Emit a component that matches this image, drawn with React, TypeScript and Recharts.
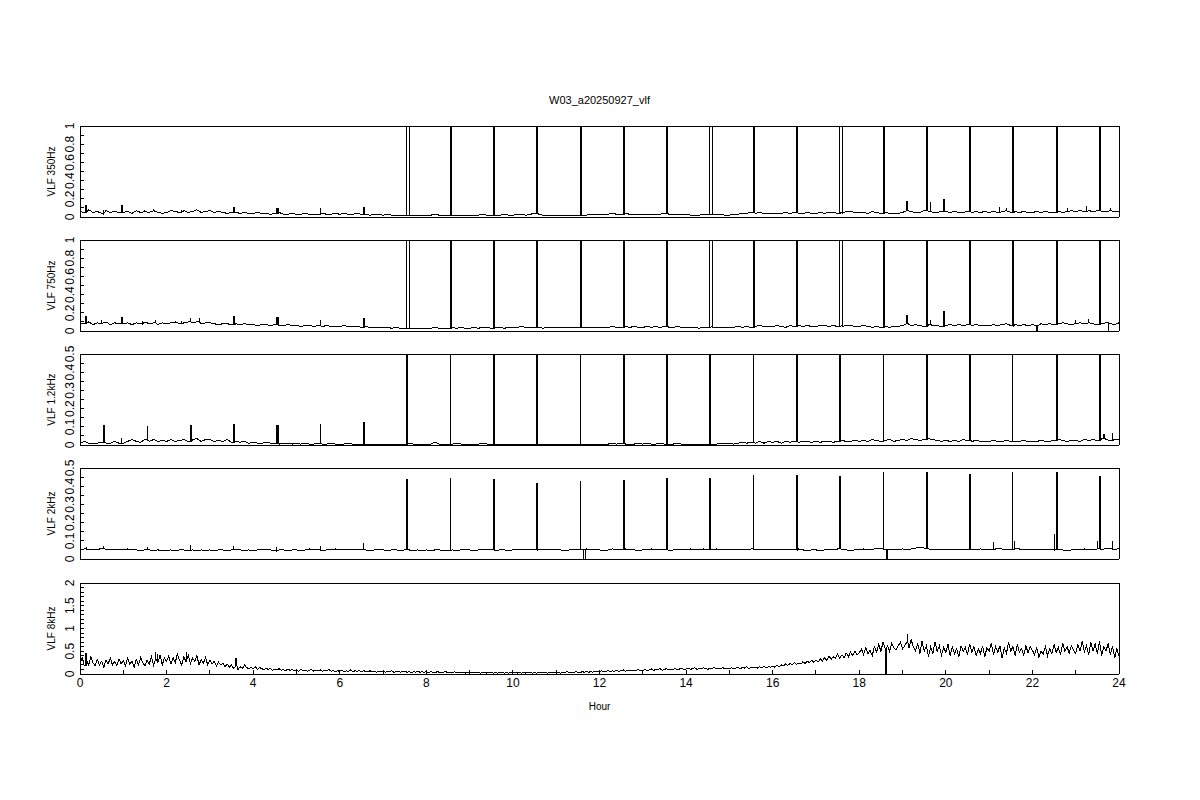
import React from 'react'
import { LineChart, Line, XAxis, YAxis } from 'recharts'

const TITLE = 'W03_a20250927_vlf'
const HOUR_TICKS = [0, 1, 2, 3, 4, 5, 6, 7, 8, 9, 10, 11, 12, 13, 14, 15, 16, 17, 18, 19, 20, 21, 22, 23, 24]

// baseline samples every 0.1 h (0.0 .. 24.0), one hour per row
const vlf350 = [
  0.06, 0.05, 0.08, 0.05, 0.06, 0.04, 0.07, 0.05, 0.06, 0.05,
  0.05, 0.06, 0.04, 0.07, 0.05, 0.06, 0.05, 0.07, 0.05, 0.04,
  0.05, 0.07, 0.06, 0.05, 0.07, 0.05, 0.06, 0.08, 0.05, 0.06,
  0.07, 0.05, 0.06, 0.05, 0.04, 0.05, 0.05, 0.04, 0.05, 0.04,
  0.04, 0.05, 0.04, 0.04, 0.03, 0.04, 0.05, 0.03, 0.03, 0.04,
  0.03, 0.03, 0.04, 0.03, 0.03, 0.03, 0.04, 0.03, 0.03, 0.04,
  0.03, 0.04, 0.03, 0.03, 0.04, 0.03, 0.03, 0.02, 0.03, 0.03,
  0.02, 0.03, 0.02, 0.02, 0.02, 0.02, 0.02, 0.02, 0.02, 0.02,
  0.02, 0.02, 0.03, 0.02, 0.02, 0.02, 0.02, 0.02, 0.02, 0.02,
  0.02, 0.02, 0.02, 0.03, 0.02, 0.02, 0.02, 0.02, 0.03, 0.02,
  0.02, 0.03, 0.03, 0.02, 0.03, 0.04, 0.03, 0.02, 0.02, 0.02,
  0.02, 0.02, 0.02, 0.02, 0.02, 0.02, 0.02, 0.02, 0.03, 0.03,
  0.03, 0.03, 0.03, 0.04, 0.03, 0.03, 0.04, 0.03, 0.03, 0.03,
  0.03, 0.03, 0.03, 0.03, 0.03, 0.04, 0.03, 0.03, 0.03, 0.03,
  0.03, 0.02, 0.02, 0.02, 0.03, 0.03, 0.02, 0.03, 0.03, 0.02,
  0.02, 0.03, 0.03, 0.04, 0.04, 0.05, 0.04, 0.05, 0.04, 0.04,
  0.04, 0.04, 0.04, 0.05, 0.04, 0.05, 0.04, 0.04, 0.05, 0.04,
  0.04, 0.05, 0.04, 0.05, 0.05, 0.04, 0.05, 0.06, 0.06, 0.05,
  0.05, 0.05, 0.04, 0.06, 0.05, 0.04, 0.05, 0.04, 0.04, 0.04,
  0.05, 0.07, 0.06, 0.05, 0.05, 0.07, 0.06, 0.05, 0.05, 0.06,
  0.06, 0.05, 0.06, 0.05, 0.05, 0.06, 0.05, 0.06, 0.05, 0.06,
  0.05, 0.06, 0.05, 0.06, 0.07, 0.05, 0.06, 0.05, 0.06, 0.05,
  0.05, 0.06, 0.05, 0.06, 0.05, 0.05, 0.06, 0.05, 0.06, 0.07,
  0.06, 0.07, 0.06, 0.07, 0.06, 0.07, 0.06, 0.06, 0.07, 0.06,
  0.06,
]

const vlf750 = [
  0.09, 0.08, 0.10, 0.07, 0.09, 0.08, 0.10, 0.07, 0.09, 0.08,
  0.08, 0.09, 0.07, 0.09, 0.08, 0.10, 0.08, 0.09, 0.07, 0.09,
  0.08, 0.09, 0.10, 0.08, 0.09, 0.10, 0.09, 0.10, 0.08, 0.09,
  0.09, 0.08, 0.07, 0.08, 0.08, 0.07, 0.08, 0.07, 0.08, 0.07,
  0.07, 0.06, 0.07, 0.07, 0.06, 0.07, 0.06, 0.06, 0.07, 0.06,
  0.06, 0.05, 0.06, 0.06, 0.05, 0.06, 0.05, 0.06, 0.05, 0.05,
  0.05, 0.06, 0.05, 0.05, 0.05, 0.04, 0.05, 0.04, 0.04, 0.04,
  0.04, 0.04, 0.03, 0.04, 0.03, 0.03, 0.02, 0.03, 0.03, 0.03,
  0.03, 0.03, 0.04, 0.03, 0.03, 0.03, 0.04, 0.03, 0.04, 0.03,
  0.03, 0.04, 0.03, 0.04, 0.04, 0.03, 0.04, 0.04, 0.03, 0.04,
  0.04, 0.04, 0.05, 0.04, 0.04, 0.04, 0.04, 0.03, 0.04, 0.04,
  0.04, 0.04, 0.04, 0.04, 0.04, 0.04, 0.04, 0.04, 0.04, 0.04,
  0.04, 0.04, 0.04, 0.05, 0.04, 0.04, 0.05, 0.04, 0.05, 0.04,
  0.04, 0.05, 0.04, 0.05, 0.04, 0.05, 0.04, 0.04, 0.05, 0.04,
  0.04, 0.04, 0.04, 0.03, 0.04, 0.04, 0.05, 0.04, 0.04, 0.04,
  0.04, 0.04, 0.05, 0.04, 0.05, 0.04, 0.05, 0.06, 0.05, 0.05,
  0.05, 0.06, 0.05, 0.04, 0.06, 0.05, 0.06, 0.05, 0.06, 0.05,
  0.05, 0.06, 0.06, 0.05, 0.06, 0.05, 0.06, 0.06, 0.06, 0.05,
  0.05, 0.06, 0.05, 0.04, 0.05, 0.04, 0.05, 0.04, 0.05, 0.05,
  0.06, 0.08, 0.06, 0.07, 0.06, 0.05, 0.07, 0.06, 0.06, 0.05,
  0.06, 0.07, 0.06, 0.07, 0.06, 0.07, 0.06, 0.07, 0.06, 0.06,
  0.06, 0.07, 0.06, 0.07, 0.08, 0.06, 0.07, 0.06, 0.07, 0.06,
  0.07, 0.06, 0.08, 0.07, 0.08, 0.07, 0.08, 0.09, 0.08, 0.07,
  0.08, 0.09, 0.08, 0.09, 0.08, 0.07, 0.08, 0.09, 0.08, 0.07,
  0.09,
]

const vlf1200 = [
  0.01, 0.02, 0.01, 0.005, 0.01, 0.015, 0.01, 0.01, 0.02, 0.01,
  0.01, 0.02, 0.03, 0.02, 0.015, 0.03, 0.02, 0.03, 0.02, 0.025,
  0.02, 0.03, 0.02, 0.025, 0.03, 0.02, 0.03, 0.035, 0.02, 0.03,
  0.03, 0.02, 0.025, 0.02, 0.03, 0.015, 0.02, 0.015, 0.02, 0.01,
  0.015, 0.01, 0.01, 0.015, 0.01, 0.01, 0.005, 0.01, 0.01, 0.005,
  0.01, 0.005, 0.01, 0.005, 0.005, 0.01, 0.005, 0.005, 0.01, 0.005,
  0.005, 0.005, 0.01, 0.005, 0.005, 0.005, 0.005, 0.005, 0.005, 0.005,
  0.005, 0.005, 0.005, 0.005, 0.005, 0.005, 0.01, 0.005, 0.005, 0.005,
  0.005, 0.005, 0.015, 0.005, 0.005, 0.005, 0.005, 0.01, 0.005, 0.005,
  0.005, 0.005, 0.005, 0.01, 0.005, 0.005, 0.005, 0.005, 0.005, 0.005,
  0.005, 0.005, 0.005, 0.005, 0.005, 0.005, 0.005, 0.005, 0.005, 0.005,
  0.005, 0.005, 0.005, 0.005, 0.005, 0.005, 0.005, 0.005, 0.005, 0.005,
  0.005, 0.005, 0.005, 0.01, 0.005, 0.01, 0.005, 0.005, 0.005, 0.01,
  0.005, 0.01, 0.005, 0.005, 0.01, 0.005, 0.005, 0.005, 0.01, 0.005,
  0.005, 0.005, 0.005, 0.005, 0.005, 0.005, 0.005, 0.005, 0.01, 0.005,
  0.01, 0.005, 0.01, 0.015, 0.01, 0.015, 0.01, 0.02, 0.01, 0.02,
  0.015, 0.02, 0.01, 0.02, 0.015, 0.02, 0.015, 0.02, 0.02, 0.015,
  0.02, 0.015, 0.02, 0.02, 0.015, 0.02, 0.025, 0.02, 0.02, 0.025,
  0.02, 0.025, 0.02, 0.03, 0.025, 0.02, 0.025, 0.03, 0.02, 0.025,
  0.03, 0.025, 0.035, 0.03, 0.025, 0.03, 0.035, 0.03, 0.025, 0.02,
  0.025, 0.02, 0.025, 0.02, 0.03, 0.025, 0.02, 0.025, 0.02, 0.02,
  0.02, 0.025, 0.02, 0.02, 0.025, 0.02, 0.02, 0.02, 0.025, 0.02,
  0.02, 0.02, 0.025, 0.02, 0.02, 0.025, 0.03, 0.025, 0.02, 0.025,
  0.025, 0.02, 0.03, 0.025, 0.03, 0.025, 0.035, 0.03, 0.025, 0.03,
  0.03,
]

const vlf2k = [
  0.05, 0.055, 0.05, 0.055, 0.05, 0.06, 0.05, 0.055, 0.05, 0.05,
  0.05, 0.055, 0.05, 0.05, 0.045, 0.05, 0.05, 0.045, 0.05, 0.045,
  0.045, 0.05, 0.045, 0.05, 0.05, 0.045, 0.05, 0.045, 0.05, 0.045,
  0.05, 0.045, 0.05, 0.05, 0.045, 0.05, 0.055, 0.05, 0.045, 0.05,
  0.045, 0.05, 0.05, 0.055, 0.05, 0.045, 0.05, 0.05, 0.045, 0.05,
  0.05, 0.045, 0.05, 0.055, 0.05, 0.05, 0.045, 0.05, 0.05, 0.055,
  0.05, 0.055, 0.05, 0.05, 0.055, 0.05, 0.05, 0.045, 0.05, 0.05,
  0.05, 0.045, 0.05, 0.05, 0.045, 0.05, 0.05, 0.045, 0.05, 0.045,
  0.05, 0.045, 0.05, 0.05, 0.045, 0.045, 0.05, 0.045, 0.05, 0.05,
  0.05, 0.045, 0.05, 0.05, 0.055, 0.05, 0.045, 0.05, 0.05, 0.045,
  0.05, 0.055, 0.05, 0.055, 0.05, 0.05, 0.055, 0.05, 0.05, 0.05,
  0.05, 0.05, 0.045, 0.05, 0.05, 0.05, 0.05, 0.055, 0.05, 0.05,
  0.05, 0.045, 0.05, 0.055, 0.05, 0.05, 0.055, 0.05, 0.05, 0.045,
  0.05, 0.05, 0.055, 0.05, 0.05, 0.05, 0.045, 0.05, 0.05, 0.05,
  0.05, 0.055, 0.05, 0.05, 0.055, 0.05, 0.05, 0.055, 0.05, 0.05,
  0.05, 0.05, 0.055, 0.05, 0.05, 0.055, 0.05, 0.05, 0.05, 0.055,
  0.05, 0.05, 0.055, 0.05, 0.05, 0.05, 0.055, 0.05, 0.045, 0.05,
  0.05, 0.045, 0.05, 0.05, 0.05, 0.055, 0.05, 0.05, 0.045, 0.05,
  0.05, 0.055, 0.05, 0.05, 0.06, 0.055, 0.05, 0.05, 0.055, 0.05,
  0.055, 0.05, 0.055, 0.06, 0.065, 0.06, 0.055, 0.05, 0.055, 0.05,
  0.05, 0.055, 0.05, 0.05, 0.055, 0.05, 0.05, 0.05, 0.055, 0.05,
  0.055, 0.05, 0.06, 0.055, 0.05, 0.05, 0.06, 0.055, 0.05, 0.05,
  0.05, 0.055, 0.05, 0.05, 0.055, 0.05, 0.05, 0.05, 0.045, 0.05,
  0.05, 0.05, 0.055, 0.05, 0.05, 0.055, 0.05, 0.06, 0.055, 0.05,
  0.06,
]

// 8 kHz is noisier: samples every 0.05 h (0.00 .. 24.00), one hour per row
const vlf8k = [
  0.22, 0.35, 0.18, 0.3, 0.2, 0.38, 0.25, 0.18, 0.32, 0.2, 0.28, 0.15, 0.3, 0.22, 0.35, 0.2, 0.27, 0.18, 0.33, 0.22,
  0.3, 0.18, 0.35, 0.22, 0.28, 0.15, 0.32, 0.2, 0.36, 0.25, 0.18, 0.3, 0.22, 0.38, 0.2, 0.33, 0.25, 0.42, 0.2, 0.35,
  0.28, 0.4, 0.22, 0.36, 0.25, 0.44, 0.3, 0.2, 0.38, 0.26, 0.42, 0.22, 0.35, 0.28, 0.4, 0.2, 0.32, 0.24, 0.36, 0.2,
  0.3, 0.22, 0.28, 0.18, 0.26, 0.2, 0.24, 0.16, 0.22, 0.15, 0.2, 0.12, 0.18, 0.1, 0.16, 0.12, 0.2, 0.14, 0.12, 0.15,
  0.12, 0.16, 0.1, 0.14, 0.12, 0.09, 0.13, 0.1, 0.12, 0.08, 0.11, 0.09, 0.12, 0.08, 0.1, 0.07, 0.11, 0.08, 0.1, 0.07,
  0.09, 0.06, 0.1, 0.07, 0.09, 0.06, 0.08, 0.1, 0.06, 0.08, 0.07, 0.09, 0.06, 0.08, 0.07, 0.1, 0.06, 0.08, 0.05, 0.07,
  0.06, 0.08, 0.05, 0.07, 0.06, 0.09, 0.05, 0.07, 0.06, 0.08, 0.05, 0.07, 0.06, 0.05, 0.07, 0.05, 0.06, 0.04, 0.06, 0.05,
  0.06, 0.04, 0.06, 0.05, 0.07, 0.04, 0.05, 0.06, 0.04, 0.05, 0.06, 0.04, 0.05, 0.03, 0.05, 0.04, 0.06, 0.04, 0.05, 0.04,
  0.05, 0.03, 0.05, 0.04, 0.03, 0.05, 0.04, 0.03, 0.04, 0.05, 0.03, 0.04, 0.03, 0.05, 0.03, 0.04, 0.03, 0.04, 0.02, 0.04,
  0.03, 0.04, 0.02, 0.04, 0.03, 0.02, 0.04, 0.03, 0.02, 0.03, 0.04, 0.02, 0.03, 0.02, 0.04, 0.03, 0.02, 0.03, 0.02, 0.03,
  0.02, 0.03, 0.02, 0.04, 0.02, 0.03, 0.02, 0.03, 0.04, 0.02, 0.03, 0.02, 0.03, 0.02, 0.04, 0.03, 0.02, 0.03, 0.04, 0.03,
  0.03, 0.04, 0.02, 0.04, 0.03, 0.05, 0.03, 0.04, 0.03, 0.05, 0.04, 0.03, 0.05, 0.04, 0.06, 0.04, 0.05, 0.04, 0.06, 0.05,
  0.05, 0.07, 0.05, 0.06, 0.08, 0.05, 0.07, 0.06, 0.08, 0.06, 0.07, 0.09, 0.06, 0.08, 0.07, 0.09, 0.07, 0.08, 0.1, 0.07,
  0.08, 0.1, 0.07, 0.09, 0.11, 0.08, 0.1, 0.09, 0.12, 0.08, 0.1, 0.12, 0.09, 0.11, 0.1, 0.12, 0.09, 0.11, 0.13, 0.1,
  0.11, 0.13, 0.1, 0.12, 0.14, 0.1, 0.12, 0.11, 0.14, 0.12, 0.1, 0.13, 0.12, 0.15, 0.11, 0.13, 0.12, 0.14, 0.11, 0.13,
  0.12, 0.14, 0.11, 0.13, 0.15, 0.12, 0.14, 0.13, 0.16, 0.12, 0.14, 0.13, 0.15, 0.13, 0.16, 0.14, 0.17, 0.14, 0.16, 0.15,
  0.17, 0.15, 0.19, 0.16, 0.2, 0.18, 0.22, 0.19, 0.23, 0.2, 0.25, 0.21, 0.24, 0.22, 0.27, 0.23, 0.28, 0.25, 0.3, 0.26,
  0.3, 0.26, 0.34, 0.28, 0.36, 0.3, 0.4, 0.32, 0.38, 0.34, 0.44, 0.35, 0.42, 0.36, 0.46, 0.38, 0.48, 0.4, 0.5, 0.42,
  0.46, 0.55, 0.42, 0.58, 0.45, 0.52, 0.4, 0.6, 0.48, 0.65, 0.5, 0.7, 0.55, 0.62, 0.5, 0.68, 0.58, 0.52, 0.62, 0.7,
  0.55, 0.62, 0.7, 0.58, 0.75, 0.6, 0.5, 0.68, 0.45, 0.72, 0.5, 0.62, 0.38, 0.6, 0.45, 0.7, 0.5, 0.62, 0.42, 0.58,
  0.48, 0.65, 0.4, 0.6, 0.45, 0.55, 0.38, 0.62, 0.5, 0.58, 0.42, 0.66, 0.48, 0.6, 0.4, 0.55, 0.45, 0.62, 0.38, 0.58,
  0.5, 0.68, 0.42, 0.6, 0.48, 0.62, 0.35, 0.58, 0.45, 0.7, 0.5, 0.6, 0.4, 0.65, 0.48, 0.56, 0.42, 0.62, 0.46, 0.6,
  0.52, 0.42, 0.58, 0.36, 0.5, 0.44, 0.6, 0.4, 0.55, 0.45, 0.65, 0.48, 0.58, 0.42, 0.68, 0.5, 0.6, 0.46, 0.62, 0.52,
  0.45, 0.65, 0.5, 0.72, 0.48, 0.62, 0.42, 0.7, 0.5, 0.66, 0.45, 0.72, 0.4, 0.6, 0.5, 0.68, 0.42, 0.62, 0.35, 0.55,
  0.4,
]

// spikes: [hour, peak value, trace width]
type Spike = [number, number, 'thin' | 'thick' | 'wide']

const spikes350: Spike[] = [
  [0.12, 0.13, 'thick'], [0.55, 0.08, 'thin'], [0.95, 0.13, 'thick'], [1.5, 0.08, 'thin'],
  [1.7, 0.09, 'thin'], [2.35, 0.08, 'thin'], [2.7, 0.09, 'thin'], [3.55, 0.11, 'thick'],
  [4.55, 0.1, 'thick'], [5.55, 0.1, 'thin'], [6.55, 0.11, 'thick'],
  [7.55, 2, 'wide'], [8.55, 2, 'thick'], [9.55, 2, 'thick'], [10.55, 2, 'thick'],
  [11.55, 2, 'thick'], [12.55, 2, 'thick'], [13.55, 2, 'thick'], [14.55, 2, 'wide'],
  [15.55, 2, 'thick'], [16.55, 2, 'thick'], [17.55, 2, 'wide'], [18.55, 2, 'thick'],
  [19.1, 0.18, 'thick'], [19.55, 2, 'thick'], [19.65, 0.17, 'thin'], [19.95, 0.2, 'thick'],
  [20.55, 2, 'thick'], [21.25, 0.11, 'thin'], [21.4, 0.1, 'thin'], [21.55, 2, 'thick'],
  [22.55, 2, 'thick'], [22.8, 0.1, 'thin'], [23.25, 0.12, 'thin'], [23.55, 2, 'thick'],
  [23.8, 0.1, 'thin'],
]

const spikes750: Spike[] = [
  [0.12, 0.17, 'thick'], [0.5, 0.12, 'thin'], [0.95, 0.15, 'thick'], [1.45, 0.11, 'thin'],
  [1.75, 0.12, 'thin'], [2.35, 0.11, 'thin'], [2.55, 0.14, 'thin'], [2.75, 0.14, 'thin'],
  [3.55, 0.165, 'thick'], [4.55, 0.155, 'thick'], [5.55, 0.12, 'thin'], [6.55, 0.14, 'thick'],
  [7.55, 2, 'wide'], [8.55, 2, 'thick'], [9.55, 2, 'thick'], [10.55, 2, 'thick'],
  [11.55, 2, 'thick'], [12.55, 2, 'thick'], [13.55, 2, 'thick'], [14.55, 2, 'wide'],
  [15.55, 2, 'thick'], [16.55, 2, 'thick'], [17.55, 2, 'wide'], [18.55, 2, 'thick'],
  [19.1, 0.18, 'thick'], [19.55, 2, 'thick'], [19.65, 0.12, 'thin'], [19.95, 0.22, 'thick'],
  [20.55, 2, 'thick'], [21.55, 2, 'thick'], [22.1, 0, 'thick'], [22.55, 2, 'thick'],
  [23.0, 0.12, 'thin'], [23.3, 0.13, 'thin'], [23.55, 2, 'thick'], [23.75, 0, 'thin'],
]

const spikes1200: Spike[] = [
  [0.55, 0.11, 'thick'], [0.95, 0.04, 'thin'], [1.55, 0.104, 'thin'], [2.55, 0.11, 'thick'],
  [3.55, 0.117, 'thick'], [4.55, 0.11, 'thick'], [5.55, 0.117, 'thin'], [6.55, 0.126, 'thick'],
  [7.55, 1, 'thick'], [8.55, 1, 'thin'], [9.55, 1, 'thick'], [10.55, 1, 'thick'],
  [11.55, 1, 'thin'], [12.55, 1, 'thick'], [13.55, 1, 'thick'], [14.55, 1, 'thick'],
  [15.55, 1, 'thin'], [16.55, 1, 'thick'], [17.55, 1, 'thick'], [18.55, 1, 'thin'],
  [19.55, 1, 'thick'], [20.55, 1, 'thick'], [21.55, 1, 'thin'], [22.55, 1, 'thick'],
  [23.55, 1, 'thick'], [23.65, 0.06, 'thick'], [23.85, 0.065, 'thin'],
]

const spikes2k: Spike[] = [
  [0.15, 0.065, 'thin'], [0.55, 0.07, 'thin'], [1.55, 0.065, 'thin'], [2.55, 0.075, 'thin'],
  [3.55, 0.07, 'thin'], [4.55, 0.065, 'thin'], [5.55, 0.07, 'thin'], [6.55, 0.09, 'thin'],
  [7.55, 0.44, 'thick'], [8.55, 0.445, 'thin'], [9.55, 0.438, 'thick'], [10.55, 0.418, 'thick'],
  [11.55, 0.43, 'thin'], [11.62, 0, 'thin'], [11.67, 0, 'thin'], [12.55, 0.434, 'thick'],
  [13.55, 0.445, 'thick'], [14.55, 0.445, 'thick'], [15.55, 0.46, 'thin'], [16.55, 0.462, 'thick'],
  [17.55, 0.458, 'thick'], [18.55, 0.476, 'thin'], [18.62, 0, 'thick'], [19.55, 0.476, 'thick'],
  [20.55, 0.467, 'thick'], [21.1, 0.095, 'thin'], [21.55, 0.476, 'thin'], [21.58, 0.1, 'thin'],
  [22.5, 0.14, 'thin'], [22.55, 0.476, 'thick'], [23.5, 0.1, 'thin'], [23.55, 0.458, 'thick'],
  [23.85, 0.1, 'thin'],
]

const spikes8k: Spike[] = [
  [0.12, 0.46, 'thick'], [1.75, 0.49, 'thin'], [1.8, 0.45, 'thin'], [2.45, 0.48, 'thin'],
  [3.6, 0.36, 'thick'], [18.6, 0, 'thick'], [19.12, 0.88, 'thin'],
]

// vertical strokes (hour offsets) that make up each kind of spike
const SPIKE_STROKES = { thin: [0], thick: [0, 0.012, 0.024], wide: [0, 0.06] }

function buildRows(base: number[], perHour: number, spikes: Spike[]) {
  const rows = base.map((v, i) => ({ h: i / perHour, v }))
  for (const [t, peak, kind] of spikes) {
    const foot = base[Math.floor(t * perHour + 1e-9)]
    for (const o of SPIKE_STROKES[kind]) {
      rows.push({ h: t + o, v: foot }, { h: t + o, v: peak }, { h: t + o, v: foot })
    }
  }
  return rows.sort((a, b) => a.h - b.h)
}

const FONT = '"Liberation Sans", Arial, sans-serif'
const PLOT_H = 91

const panels = [
  {
    name: 'VLF 350Hz', top: 126, rows: buildRows(vlf350, 10, spikes350), domain: [0, 1],
    major: [0, 0.2, 0.4, 0.6, 0.8, 1],
    minor: [0, 0.1, 0.2, 0.3, 0.4, 0.5, 0.6, 0.7, 0.8, 0.9, 1],
  },
  {
    name: 'VLF 750Hz', top: 240, rows: buildRows(vlf750, 10, spikes750), domain: [0, 1],
    major: [0, 0.2, 0.4, 0.6, 0.8, 1],
    minor: [0, 0.1, 0.2, 0.3, 0.4, 0.5, 0.6, 0.7, 0.8, 0.9, 1],
  },
  {
    name: 'VLF 1.2kHz', top: 354, rows: buildRows(vlf1200, 10, spikes1200), domain: [0, 0.5],
    major: [0, 0.1, 0.2, 0.3, 0.4, 0.5],
    minor: [0, 0.05, 0.1, 0.15, 0.2, 0.25, 0.3, 0.35, 0.4, 0.45, 0.5],
  },
  {
    name: 'VLF 2kHz', top: 468, rows: buildRows(vlf2k, 10, spikes2k), domain: [0, 0.5],
    major: [0, 0.1, 0.2, 0.3, 0.4, 0.5],
    minor: [0, 0.05, 0.1, 0.15, 0.2, 0.25, 0.3, 0.35, 0.4, 0.45, 0.5],
  },
  {
    name: 'VLF 8kHz', top: 583, rows: buildRows(vlf8k, 20, spikes8k), domain: [0, 2],
    major: [0, 0.5, 1, 1.5, 2],
    minor: [0, 0.1, 0.2, 0.3, 0.4, 0.5, 0.6, 0.7, 0.8, 0.9, 1, 1.1, 1.2, 1.3, 1.4, 1.5, 1.6, 1.7, 1.8, 1.9, 2],
  },
]

function makeYTick(major: number[]) {
  return function YTick(props: any) {
    const { x, y, payload } = props
    if (!major.includes(payload.value)) return <g />
    return (
      <text x={x} y={y} transform={`rotate(-90, ${x}, ${y})`} textAnchor="middle"
        fontSize={12} fontFamily={FONT} fill="#000">
        {String(payload.value)}
      </text>
    )
  }
}

const line = { stroke: '#000' }

function Panel({ p, first, last }: { p: (typeof panels)[number]; first: boolean; last: boolean }) {
  const bottomAxisH = last ? 40 : 20
  const height = 20 + 20 + PLOT_H + bottomAxisH + 10
  return (
    <div style={{ position: 'absolute', left: 0, top: p.top - 40 }}>
      <LineChart width={1200} height={height} data={p.rows}
        margin={{ top: 20, right: 71, bottom: 10, left: 23 }}>
        <XAxis xAxisId="b" dataKey="h" type="number" domain={[0, 24]} allowDataOverflow
          ticks={HOUR_TICKS} interval={0} height={bottomAxisH}
          tickSize={-4} tickMargin={8} axisLine={line} tickLine={line}
          tick={last ? { fontSize: 12, fontFamily: FONT, fill: '#000' } : false}
          tickFormatter={(v: number) => (v % 2 === 0 ? String(v) : '')}
          label={last ? { value: 'Hour', position: 'insideBottom', offset: 4, fontSize: 10, fontFamily: FONT, fill: '#000' } : undefined} />
        <XAxis xAxisId="t" orientation="top" dataKey="h" type="number" domain={[0, 24]} allowDataOverflow
          ticks={HOUR_TICKS} interval={0} height={20}
          tickSize={-4} axisLine={line} tickLine={line} tick={false}
          label={first ? { value: TITLE, position: 'top', offset: 2, fontSize: 11, fontFamily: FONT, fill: '#000' } : undefined} />
        <YAxis yAxisId="l" type="number" domain={p.domain} allowDataOverflow
          ticks={p.minor} interval={0} width={57}
          tickSize={-4} tickMargin={10} axisLine={line} tickLine={line}
          tick={makeYTick(p.major)}
          label={{ value: p.name, angle: -90, position: 'center', fontSize: 10, fontFamily: FONT, fill: '#000' }} />
        <YAxis yAxisId="r" orientation="right" type="number" domain={p.domain} allowDataOverflow
          ticks={p.minor} interval={0} width={10}
          tickSize={-4} axisLine={line} tickLine={line} tick={false} />
        <Line xAxisId="b" yAxisId="l" type="linear" dataKey="v" stroke="#000" strokeWidth={1}
          dot={false} activeDot={false} isAnimationActive={false} />
      </LineChart>
    </div>
  )
}

export default function App() {
  return (
    <div style={{ position: 'absolute', left: 0, top: 0, width: 1200, height: 800, background: '#fff' }}>
      <style>{'.recharts-surface path, .recharts-surface line { shape-rendering: crispEdges; }'}</style>
      {panels.map((p, i) => (
        <Panel key={p.name} p={p} first={i === 0} last={i === panels.length - 1} />
      ))}
    </div>
  )
}
